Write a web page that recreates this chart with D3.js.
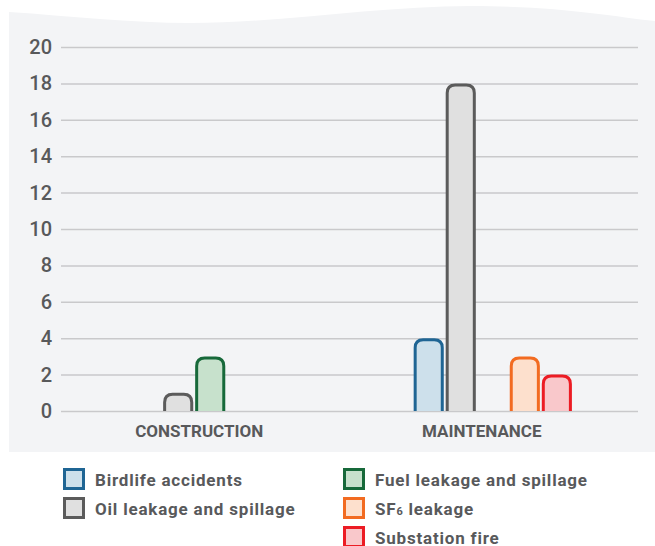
<!DOCTYPE html>
<html>
<head>
<meta charset="utf-8">
<script src="https://cdn.jsdelivr.net/npm/d3@7"></script>
<style>
  html, body { margin: 0; padding: 0; background: #ffffff; }
  svg { display: block; }
  text { font-family: Roboto, "Noto Sans", sans-serif; fill: #58595b; }
</style>
</head>
<body>
<svg id="chart" width="655" height="546"></svg>
<script>
const categories = ["CONSTRUCTION", "MAINTENANCE"];
const series = ["Birdlife accidents", "Oil leakage and spillage", "Fuel leakage and spillage", "SF6 leakage", "Substation fire"];
const birdlife = [0, 4];
const oil = [1, 18];
const fuel = [3, 0];
const sf6 = [0, 3];
const fire = [0, 2];
const yTicks = [0, 2, 4, 6, 8, 10, 12, 14, 16, 18, 20];

const strokeColors = ["#1f6594", "#5b5b5b", "#17693a", "#f26b21", "#ec1c24"];
const fillColors = ["#cde0eb", "#e0e0e0", "#c7e1cc", "#fde0cd", "#f9c8cb"];
const legendCol = [0, 0, 1, 1, 1];
const legendRow = [0, 1, 0, 1, 2];

const values = [birdlife, oil, fuel, sf6, fire];
const svg = d3.select("#chart");

// background panel with wavy top
svg.append("path")
  .attr("d", "M9,12 C70,16 130,23 190,23 C280,23 380,6 470,6 C560,6 610,16 655,21 L655,452 L9,452 Z")
  .attr("fill", "#f3f4f6");

const left = 61, right = 638;
const y = d3.scaleLinear().domain([0, 20]).range([411, 47]);
const x0 = d3.scaleBand().domain(categories).range([63, 640]).paddingInner(0.44).paddingOuter(0.241);
const x1 = d3.scaleBand().domain(series).range([0, x0.bandwidth()]).paddingInner(0.06);

const axis = d3.axisLeft(y).tickValues(yTicks).tickSize(-(right - left)).tickPadding(9);
const gA = svg.append("g").attr("transform", `translate(${left},0)`).call(axis);
gA.select(".domain").remove();
gA.selectAll(".tick line").attr("stroke", "#c9c9cb").attr("stroke-width", 1.5);
gA.selectAll(".tick text").attr("font-size", 20).attr("font-weight", 500).attr("fill", "#58595b").attr("font-family", "Roboto, sans-serif");

// bars
const sw = 3, r = 8;
function barPath(xs, w, v) {
  const l = xs + sw / 2, rr = xs + w - sw / 2;
  const t = y(v) + sw / 2, b = y(0);
  const rad = Math.min(r, (b - t));
  return `M${l},${b} L${l},${t + rad} Q${l},${t} ${l + rad},${t} L${rr - rad},${t} Q${rr},${t} ${rr},${t + rad} L${rr},${b}`;
}
categories.forEach((c, ci) => {
  series.forEach((s, si) => {
    const v = values[si][ci];
    if (!v) return;
    svg.append("path")
      .attr("d", barPath(x0(c) + x1(s), x1.bandwidth(), v))
      .attr("fill", fillColors[si])
      .attr("stroke", strokeColors[si])
      .attr("stroke-width", sw)
      .attr("stroke-linejoin", "round");
  });
  svg.append("text")
    .attr("x", x0(c) + x0.bandwidth() / 2 - 11)
    .attr("y", 437)
    .attr("text-anchor", "middle")
    .attr("font-size", 17)
    .attr("font-weight", "bold")
    .text(c);
});

// legend
const colX = [63, 343], rowY = [479, 508, 537];
series.forEach((s, i) => {
  const gx = colX[legendCol[i]], gy = rowY[legendRow[i]];
  svg.append("rect")
    .attr("x", gx + 1.5).attr("y", gy - 9.5)
    .attr("width", 19).attr("height", 19)
    .attr("fill", fillColors[i]).attr("stroke", strokeColors[i]).attr("stroke-width", 3);
  const t = svg.append("text")
    .attr("x", gx + 32).attr("y", gy + 7)
    .attr("font-size", 17).attr("font-weight", "bold")
    .attr("letter-spacing", 0.8);
  if (s === "SF6 leakage") {
    t.append("tspan").text("SF");
    t.append("tspan").attr("font-size", 11).text("6");
    t.append("tspan").text(" leakage");
  } else {
    t.text(s);
  }
});
</script>
</body>
</html>
